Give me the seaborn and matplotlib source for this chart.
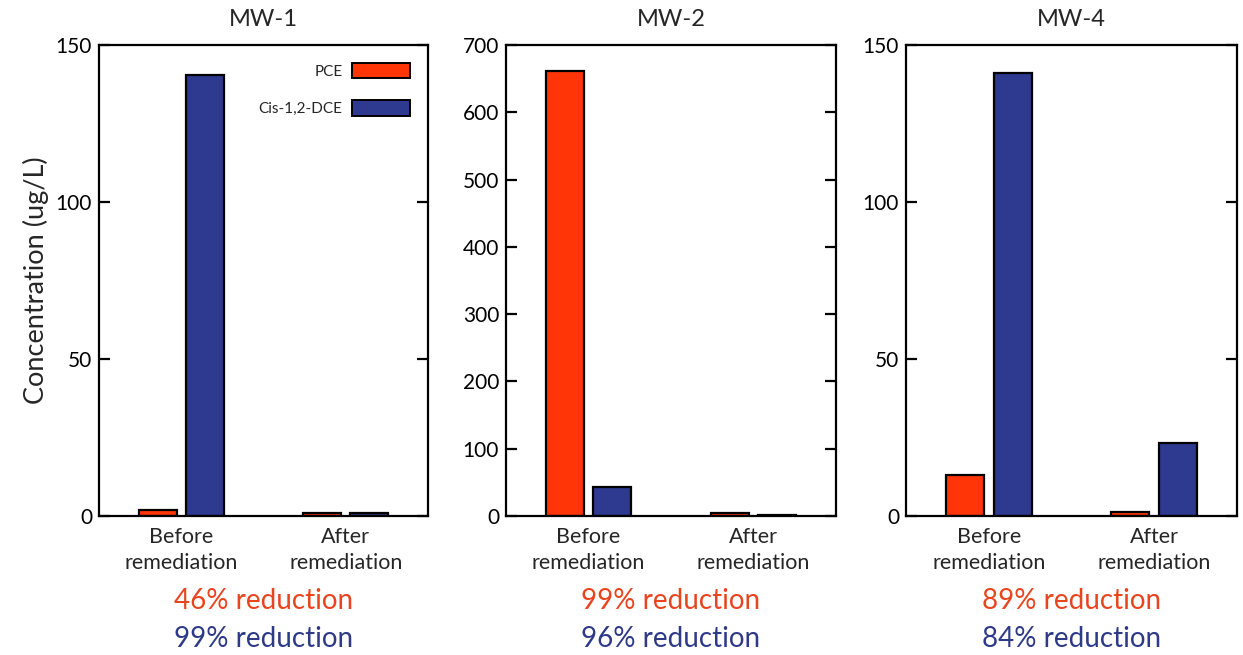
import matplotlib
matplotlib.use("Agg")
import matplotlib.pyplot as plt
from matplotlib.patches import Patch
import seaborn as sns
import pandas as pd

# ---- data ----
wells = ["MW-1", "MW-2", "MW-4"]
categories = ["Before\nremediation", "After\nremediation"]
series = ["PCE", "Cis-1,2-DCE"]
pce_mw1 = [2.0, 1.1]
dce_mw1 = [140.5, 0.8]
pce_mw2 = [661, 4.0]
dce_mw2 = [43, 1.6]
pce_mw4 = [13.1, 1.4]
dce_mw4 = [141, 23.1]
ymax = [150, 700, 150]
yticks = [[0, 50, 100, 150], [0, 100, 200, 300, 400, 500, 600, 700], [0, 50, 100, 150]]
pce_reduction = ["46% reduction", "99% reduction", "89% reduction"]
dce_reduction = ["99% reduction", "96% reduction", "84% reduction"]

pce_vals = [pce_mw1, pce_mw2, pce_mw4]
dce_vals = [dce_mw1, dce_mw2, dce_mw4]

RED = "#ff3508"
BLUE = "#2e3a8f"
RED_TXT = "#e8441f"
BLUE_TXT = "#2f3a87"

sns.set_style("ticks")
plt.rcParams["font.family"] = ["Lato", "DejaVu Sans"]

fig = plt.figure(figsize=(12.43, 6.55), dpi=100)
W, H = 1243, 655
boxes = [(99, 428), (506, 836), (906, 1237)]
top_px, bot_px = 45, 516

for i, well in enumerate(wells):
    l, r = boxes[i]
    ax = fig.add_axes([l / W, 1 - bot_px / H, (r - l) / W, (bot_px - top_px) / H])
    df = pd.DataFrame({
        "cat": categories * 2,
        "series": [series[0]] * 2 + [series[1]] * 2,
        "value": pce_vals[i] + dce_vals[i],
    })
    sns.barplot(data=df, x="cat", y="value", hue="series", order=categories,
                hue_order=series, palette=[RED, BLUE], saturation=1,
                width=0.575, gap=0.2,
                edgecolor="black", linewidth=1.6, ax=ax, legend=False)
    ax.set_xlim(-0.5, 1.5)
    ax.set_ylim(0, ymax[i])
    ax.set_yticks(yticks[i])
    ax.set_xlabel("")
    ax.set_ylabel("Concentration (ug/L)" if i == 0 else "", fontsize=19.5, labelpad=5)
    ax.set_title(well, fontsize=17, pad=14)
    for s in ax.spines.values():
        s.set_visible(True)
        s.set_linewidth(1.6)
        s.set_color("black")
    ax.tick_params(axis="y", direction="in", left=True, right=True, length=8,
                   width=1.6, labelsize=15, pad=5, colors="black")
    ax.tick_params(axis="x", length=0, labelsize=15.5, pad=8)
    for lab in ax.get_xticklabels():
        lab.set_linespacing(1.35)
    ax.grid(False)
    cx = (l + r) / 2 / W
    fig.text(cx, 1 - 601 / H, pce_reduction[i], color=RED_TXT, fontsize=20,
             ha="center", va="center")
    fig.text(cx, 1 - 639 / H, dce_reduction[i], color=BLUE_TXT, fontsize=20,
             ha="center", va="center")
    if i == 0:
        handles = [Patch(facecolor=RED, edgecolor="black", linewidth=1.4),
                   Patch(facecolor=BLUE, edgecolor="black", linewidth=1.4)]
        ax.legend(handles, series, loc="upper right", markerfirst=False,
                  frameon=False, fontsize=11, handlelength=3.8,
                  handleheight=1.15, labelspacing=1.4, handletextpad=0.6,
                  borderaxespad=0.8)

fig.savefig("out.png", dpi=100, facecolor="white")
